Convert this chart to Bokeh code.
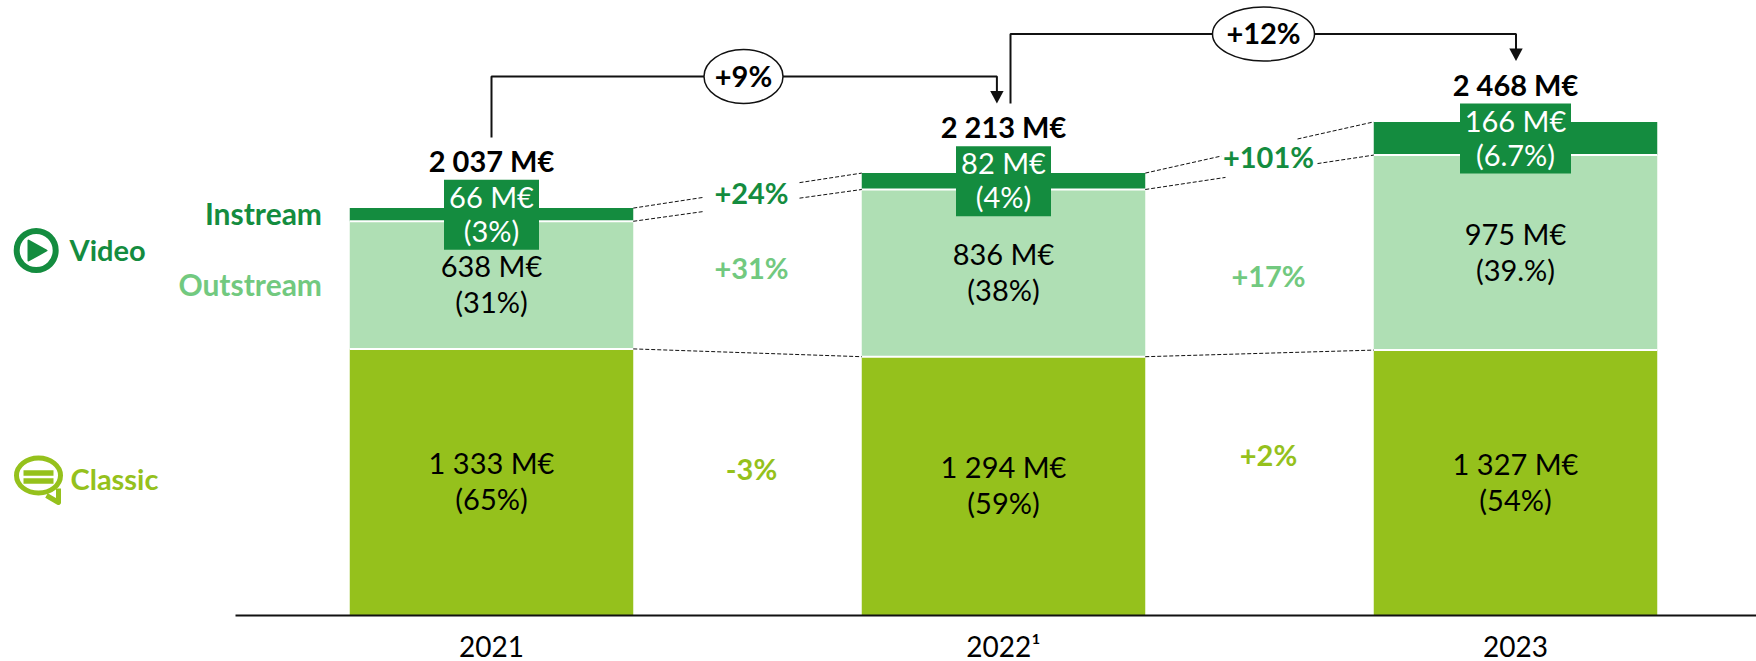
from bokeh.plotting import figure
from bokeh.models import Range1d
from bokeh.core.properties import value
from bokeh.embed import file_html
from bokeh.resources import INLINE

years = ["2021", "2022¹", "2023"]
classic = [1333, 1294, 1327]
outstream = [638, 836, 975]
instream = [66, 82, 166]
totals = ["2 037 M€", "2 213 M€", "2 468 M€"]
classic_amt = ["1 333 M€", "1 294 M€", "1 327 M€"]
classic_pct = ["(65%)", "(59%)", "(54%)"]
out_amt = ["638 M€", "836 M€", "975 M€"]
out_pct = ["(31%)", "(38%)", "(39.%)"]
in_amt = ["66 M€", "82 M€", "166 M€"]
in_pct = ["(3%)", "(4%)", "(6.7%)"]
growth_in = ["+24%", "+101%"]
growth_out = ["+31%", "+17%"]
growth_classic = ["-3%", "+2%"]
growth_total = ["+9%", "+12%"]

DARK, LIGHT, LIME, LIGHT_TXT = "#148C3F", "#AFDFB4", "#95C11C", "#72C97F"
FONT = value("Lato")
FS = "29px"

# pixel frame of the page -> data helpers (layout only)
S = 0.2
BASE = 615
LEFT = 0
WIDTH = 1756
STEP = 512
C0 = 491
def X(px): return (px - C0) / STEP
def Y(py): return (BASE - py) / S

p = figure(frame_width=WIDTH, frame_height=BASE, output_backend="svg", toolbar_location=None,
           x_range=Range1d(X(LEFT), X(LEFT + WIDTH)), y_range=Range1d(0, Y(0)),
           min_border_left=0, min_border_right=0, min_border_top=0, min_border_bottom=0,
           outline_line_color=None, background_fill_color="white")
p.grid.visible = False
p.yaxis.visible = False
ax = p.xaxis[0]
ax.ticker = [0, 1, 2]
ax.major_label_overrides = {i: y for i, y in enumerate(years)}
ax.major_tick_line_color = None
ax.major_tick_out = 0
ax.major_tick_in = 0
ax.minor_tick_line_color = None
ax.axis_line_color = "#111111"
ax.axis_line_width = 2
ax.bounds = (X(235), X(LEFT + WIDTH))
ax.major_label_text_font = "Lato"
ax.major_label_text_font_size = "28px"
ax.major_label_text_color = "#000000"
ax.major_label_standoff = 13

xs = list(range(3))
W = 283.5 / STEP
c_top = classic
o_top = [a + b for a, b in zip(classic, outstream)]
i_top = [a + b for a, b in zip(o_top, instream)]

p.vbar(x=xs, width=W, bottom=0, top=c_top, fill_color=LIME, line_color=None)
p.vbar(x=xs, width=W, bottom=c_top, top=o_top, fill_color=LIGHT, line_color=None)
p.vbar(x=xs, width=W, bottom=o_top, top=i_top, fill_color=DARK, line_color=None)
# white separators
for tops in (c_top, o_top):
    p.segment(x0=[x - W / 2 for x in xs], x1=[x + W / 2 for x in xs], y0=tops, y1=tops,
              line_color="white", line_width=2)

# dashed connectors
DASH = dict(line_color="#111111", line_width=1, line_dash="4 2")
def dashed(i, lo, hi, gap=None):
    x0, x1 = i + W / 2, i + 1 - W / 2
    y0, y1 = lo[i], hi[i + 1]
    if gap is None:
        p.line([x0, x1], [y0, y1], **DASH)
        return
    g0, g1 = X(gap[0]), X(gap[1])
    f = lambda x: y0 + (y1 - y0) * (x - x0) / (x1 - x0)
    p.line([x0, g0], [y0, f(g0)], **DASH)
    p.line([g1, x1], [f(g1), y1], **DASH)

dashed(0, i_top, i_top, (703.5, 799))
dashed(0, o_top, o_top, (703.5, 799))
dashed(1, i_top, i_top, (1221, 1297))
dashed(1, o_top, o_top, (1225, 1317))
dashed(0, c_top, c_top)
dashed(1, c_top, c_top)

def lbl(x, y, t, color="#000000", size=FS, style="normal", align="center", off=0):
    p.text(x=x, y=y, text=t, text_color=color, text_font=FONT, text_font_size=size,
           text_font_style=style, text_align=align, text_baseline="middle", y_offset=off - 1.5)

# segment labels
c_mid = [v / 2 for v in classic]
o_mid = [a + b / 2 for a, b in zip(classic, outstream)]
i_mid = [a + b / 2 for a, b in zip(o_top, instream)]
lbl(xs, c_mid, classic_amt, off=-18)
lbl(xs, c_mid, classic_pct, off=18)
lbl(xs, o_mid, out_amt, off=-18)
lbl(xs, o_mid, out_pct, off=18)
p.rect(x=xs, y=i_mid, width=[95, 95, 111], height=70, width_units="screen", height_units="screen",
       fill_color=DARK, line_color=None)
lbl(xs, i_mid, in_amt, color="white", off=-17)
lbl(xs, i_mid, in_pct, color="white", off=17)

# totals
tot_y = [Y(161), Y(127), Y(85)]
lbl(xs, tot_y, totals, style="bold")

# growth labels
gx = [X(751), X(1268)]
lbl(gx, [Y(193), Y(157)], growth_in, color=DARK, style="bold")
lbl(gx, [Y(268), Y(276)], growth_out, color=LIGHT_TXT, style="bold")
lbl(gx, [Y(469), Y(455)], growth_classic, color=LIME, style="bold")

# total growth brackets
def bracket(x0, y0, ym, x1, y1):
    p.line([X(x0), X(x0), X(x1), X(x1)], [Y(y0), Y(ym), Y(ym), Y(y1 - 10)], line_color="#111111", line_width=2)
    p.patch([X(x1 - 6.7), X(x1 + 6.7), X(x1)], [Y(y1 - 12.5), Y(y1 - 12.5), Y(y1)], fill_color="#111111", line_color=None)

bracket(491, 137, 76, 996.4, 103)
bracket(1010, 103, 33.5, 1515.5, 60.5)
p.ellipse(x=[X(743), X(1263)], y=[Y(76), Y(33.5)], width=[79, 102], height=[54, 54],
          width_units="screen", height_units="screen", fill_color="white", line_color="#111111", line_width=1.5)
lbl([X(743), X(1263)], [Y(76), Y(33.5)], growth_total, style="bold")

# left labels
lbl([X(321.5)], [Y(214)], ["Instream"], color=DARK, size="30px", style="bold", align="right")
lbl([X(321.5)], [Y(285)], ["Outstream"], color=LIGHT_TXT, size="30px", style="bold", align="right")
lbl([X(69)], [Y(250)], ["Video"], color=DARK, style="bold", align="left")
lbl([X(70)], [Y(479)], ["Classic"], color=LIME, style="bold", align="left")

# video icon
p.ellipse(x=[X(35.7)], y=[Y(250)], width=[39], height=[39], width_units="screen", height_units="screen",
          fill_color=None, line_color=DARK, line_width=6)
p.patch([X(28), X(28), X(46)], [Y(240), Y(260), Y(250)], fill_color=DARK, line_color=DARK, line_width=2, line_join="round")

# classic icon
p.ellipse(x=[X(38)], y=[Y(475)], width=[44], height=[35], width_units="screen", height_units="screen",
          fill_color=None, line_color=LIME, line_width=5)
p.line([X(46), X(58), X(58)], [Y(495), Y(502), Y(488)], line_color=LIME, line_width=5, line_join="round")
p.segment(x0=[X(23), X(23)], x1=[X(53), X(53)], y0=[Y(472.5), Y(480.5)], y1=[Y(472.5), Y(480.5)], line_color=LIME, line_width=5.5)

open("out.html", "w").write(file_html(p, INLINE))
